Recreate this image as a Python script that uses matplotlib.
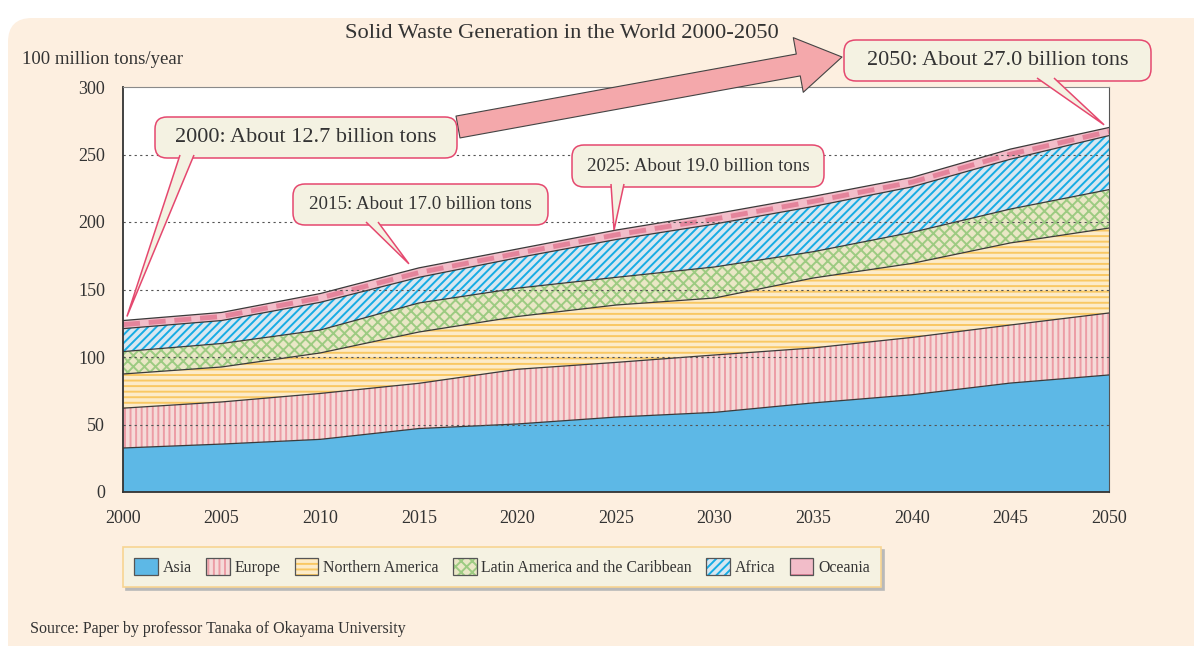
import numpy as np
import matplotlib
matplotlib.use('Agg')
import matplotlib.pyplot as plt
from matplotlib.patches import FancyBboxPatch, Polygon, FancyArrowPatch, Patch
from matplotlib.transforms import IdentityTransform

plt.rcParams['font.family'] = ['Liberation Serif', 'DejaVu Serif']
plt.rcParams['hatch.linewidth'] = 1.4

W, H = 1194, 646

##-------------------------------------DATA-------------------------------------
years = [2000, 2005, 2010, 2015, 2020, 2025, 2030, 2035, 2040, 2045, 2050]
asia = [32.6, 35.5, 39.0, 47.0, 50.4, 55.5, 59.0, 66.0, 72.0, 80.7, 86.7]
europe = [29.5, 31.2, 34.0, 33.5, 40.5, 40.5, 42.5, 40.7, 42.5, 43.0, 45.9]
north_america = [25.3, 25.9, 30.0, 38.0, 39.1, 42.5, 42.2, 51.8, 54.8, 60.8, 62.9]
latin_america = [16.6, 17.4, 17.0, 21.5, 21.0, 20.5, 23.0, 19.5, 23.0, 25.1, 28.5]
africa = [17.0, 17.0, 20.5, 19.0, 22.5, 28.0, 31.8, 33.5, 33.7, 36.9, 40.0]
oceania = [6.0, 6.0, 6.5, 7.0, 6.5, 7.0, 7.5, 7.5, 7.0, 7.5, 6.0]

regions = ['Asia', 'Europe', 'Northern America', 'Latin America and the Caribbean', 'Africa', 'Oceania']
series = [asia, europe, north_america, latin_america, africa, oceania]

y_ticks = [0, 50, 100, 150, 200, 250, 300]
x_ticks = list(range(2000, 2051, 5))

# callouts: text, box (left, top, right, bottom) in pixels, pointer base x pair, pointed (year, value), font size
callouts = [
    ('2000: About 12.7 billion tons', (155, 117, 457, 158), (180, 194), (2000.2, 130), 16),
    ('2015: About 17.0 billion tons', (293, 184, 548, 225), (366, 378), (2014.5, 169), 13.6),
    ('2025: About 19.0 billion tons', (572, 145, 824, 187), (611, 624), (2024.9, 194), 13.6),
    ('2050: About 27.0 billion tons', (844, 40, 1151, 81), (1037, 1054), (2049.75, 272), 16),
]

##-------------------------------------STYLES-------------------------------------
bg_cols = ['#5DB8E6', '#F5DAD8', '#FCEBC9', '#EAE7C6', '#D8E7F1', '#F2BDC9']
hatch_cols = [None, '#EC9CA5', '#F9C863', '#9DCB82', '#16ACE4', None]
hatches = [None, '|||', '---', 'xxx', '////', None]

fig = plt.figure(figsize=(W / 100, H / 100), dpi=100)
fig.patch.set_facecolor('white')

# rounded cream panel
panel = FancyBboxPatch((8, -40), W + 40, H - 18 + 40, boxstyle='round,pad=0,rounding_size=24',
                       fc='#FDEFE0', ec='none', transform=IdentityTransform(), zorder=-5)
fig.add_artist(panel)

ax = fig.add_axes([123 / W, 1 - 492 / H, (1109 - 123) / W, (492 - 87) / H])
ax.set_facecolor('white')
ax.set_xlim(2000, 2050)
ax.set_ylim(0, 300)

x = np.array(years)
lower = np.zeros(len(years))
for i, vals in enumerate(series):
    upper = lower + np.array(vals)
    ax.fill_between(x, lower, upper, facecolor=bg_cols[i], lw=0, zorder=1)
    if hatches[i]:
        ax.fill_between(x, lower, upper, facecolor='none', edgecolor=hatch_cols[i],
                        hatch=hatches[i], lw=0, zorder=2)
    if regions[i] == 'Oceania':
        ax.plot(x, lower + np.array(vals) / 2, color='#E4849B', lw=3.5, dashes=(3.5, 1.8), zorder=3)
    ax.plot(x, upper, color='#3a3a3a', lw=0.9, zorder=4)
    lower = upper

# dotted gridlines on top
ax.hlines(y_ticks[1:-1], 2000, 2050, colors='#555555', linestyles=(0, (2, 3)), lw=0.8, zorder=5)

ax.set_xticks(x_ticks)
ax.set_yticks(y_ticks)
ax.tick_params(length=0, labelsize=13, colors='#333333', pad=13)
for s in ['left', 'bottom']:
    ax.spines[s].set_color('#333333')
    ax.spines[s].set_linewidth(1.3)
ax.spines['top'].set_color('#8a8a8a')
ax.spines['right'].set_color('#555555')
for s in ax.spines.values():
    s.set_zorder(6)

fig.text(562 / W, 1 - 33 / H, 'Solid Waste Generation in the World 2000-2050',
         ha='center', va='center', fontsize=16.2, color='#333333')
fig.text(22 / W, 1 - 59 / H, '100 million tons/year', ha='left', va='center',
         fontsize=13.5, color='#333333')
fig.text(30 / W, 1 - 629 / H, 'Source: Paper by professor Tanaka of Okayama University',
         ha='left', va='center', fontsize=11.5, color='#333333')

# big arrow
arrow = FancyArrowPatch((458, H - 127), (842, H - 57),
                        arrowstyle='simple,head_length=1.6,head_width=2.0,tail_width=0.8',
                        mutation_scale=20, fc='#F4A8AB', ec='#444444', lw=0.8,
                        shrinkA=0, shrinkB=0, transform=IdentityTransform(), zorder=4)
fig.add_artist(arrow)

# callout boxes
for text, (l, t, r, b), (bx0, bx1), (yr, val), fs in callouts:
    box = FancyBboxPatch((l, H - b), r - l, b - t, boxstyle='round,pad=0,rounding_size=12',
                         fc='#F4F2E2', ec='#E5486F', lw=1.1, transform=IdentityTransform(), zorder=5)
    fig.add_artist(box)
    tip = ax.transData.transform((yr, val))
    tri = Polygon([(bx0, H - b + 3), tuple(tip), (bx1, H - b + 3)], closed=False,
                  fc='#F4F2E2', ec='#E5486F', lw=1.1, transform=IdentityTransform(), zorder=6)
    fig.add_artist(tri)
    fig.text((l + r) / 2 / W, 1 - (t + b) / 2 / H, text, ha='center', va='center',
             fontsize=fs, color='#333333', zorder=7)

# legend
handles = []
for i in range(len(regions)):
    parts = [Patch(facecolor=bg_cols[i], edgecolor='none', lw=0)]
    if hatches[i]:
        parts.append(Patch(facecolor='none', edgecolor=hatch_cols[i], hatch=hatches[i], lw=0))
    if regions[i] == 'Oceania':
        parts.append(Patch(facecolor='none', edgecolor='#E4849B', hatch='-', lw=0))
    parts.append(Patch(facecolor='none', edgecolor='#555555', lw=0.9))
    handles.append(tuple(parts))

leg = fig.legend(handles, regions, loc='center', bbox_to_anchor=(502 / W, 1 - 567 / H), ncol=6,
                 frameon=True, fancybox=False, shadow={'color': '#B9B9B9', 'alpha': 1},
                 facecolor='#F5F2E2', edgecolor='#F8D592', fontsize=11.4,
                 handlelength=1.5, handleheight=1.3, columnspacing=0.9, handletextpad=0.3,
                 borderpad=0.7)
leg.get_frame().set_linewidth(1.2)
for t in leg.get_texts():
    t.set_color('#333333')

fig.savefig('out.png', dpi=100)
